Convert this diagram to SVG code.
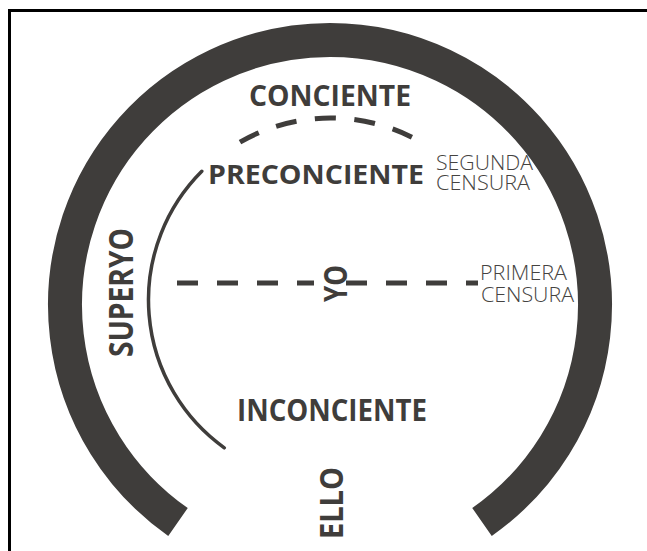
<svg xmlns="http://www.w3.org/2000/svg" width="647" height="551" viewBox="0 0 647 551">
<style>
.bold{font-family:"Open Sans","Noto Sans","Liberation Sans",sans-serif;font-weight:bold;fill:#3f3d3b}
.thin{font-family:"Open Sans","Noto Sans","Liberation Sans",sans-serif;font-weight:300;fill:#454341;font-size:20px}
.ring{fill:none;stroke:#3f3d3b;stroke-width:34}
.line{fill:none;stroke:#3f3d3b}
</style>
<rect width="647" height="551" fill="#ffffff"/>
<path d="M9.5 551 V10.5 H647" fill="none" stroke="#000" stroke-width="3"/>
<g id="connectors">
<path class="ring" d="M178 522 A265 265 0 1 1 482 522"/>
<path class="line" stroke-width="3.5" stroke-linecap="round" d="M201.8 171.3 A182 182 0 0 0 224.3 447.8"/>
<path class="line" stroke-width="5" stroke-dasharray="21 18.5" d="M240 142.1 A182 182 0 0 1 412 137.3"/>
<path class="line" stroke-width="5" stroke-dasharray="21 19" d="M177 283 H314"/>
<path class="line" stroke-width="5" stroke-dasharray="21 19" d="M346 283 H478"/>
</g>
<g id="conciente"><text class="bold" x="249" y="106" font-size="29" textLength="162" lengthAdjust="spacingAndGlyphs">CONCIENTE</text></g>
<g id="preconciente"><text class="bold" x="208" y="184" font-size="27.5" textLength="216" lengthAdjust="spacingAndGlyphs">PRECONCIENTE</text></g>
<g id="inconciente"><text class="bold" x="237" y="420.5" font-size="30" textLength="190" lengthAdjust="spacingAndGlyphs">INCONCIENTE</text></g>
<g id="superyo"><text class="bold" transform="translate(132.5,357) rotate(-90)" font-size="33.5" textLength="129" lengthAdjust="spacingAndGlyphs">SUPERYO</text></g>
<g id="yo"><text class="bold" transform="translate(347,302) rotate(-90)" font-size="32" textLength="37" lengthAdjust="spacingAndGlyphs">YO</text></g>
<g id="ello"><text class="bold" transform="translate(342.5,539) rotate(-90)" font-size="32" textLength="72" lengthAdjust="spacingAndGlyphs">ELLO</text></g>
<g id="segunda-censura">
<text class="thin"><tspan x="436" y="169.5" textLength="97" lengthAdjust="spacingAndGlyphs">SEGUNDA</tspan><tspan x="436" y="189.5" textLength="94" lengthAdjust="spacingAndGlyphs">CENSURA</tspan></text>
</g>
<g id="primera-censura">
<text class="thin"><tspan x="480" y="279.5" textLength="87" lengthAdjust="spacingAndGlyphs">PRIMERA</tspan><tspan x="481" y="301.5" textLength="93" lengthAdjust="spacingAndGlyphs">CENSURA</tspan></text>
</g>
</svg>
